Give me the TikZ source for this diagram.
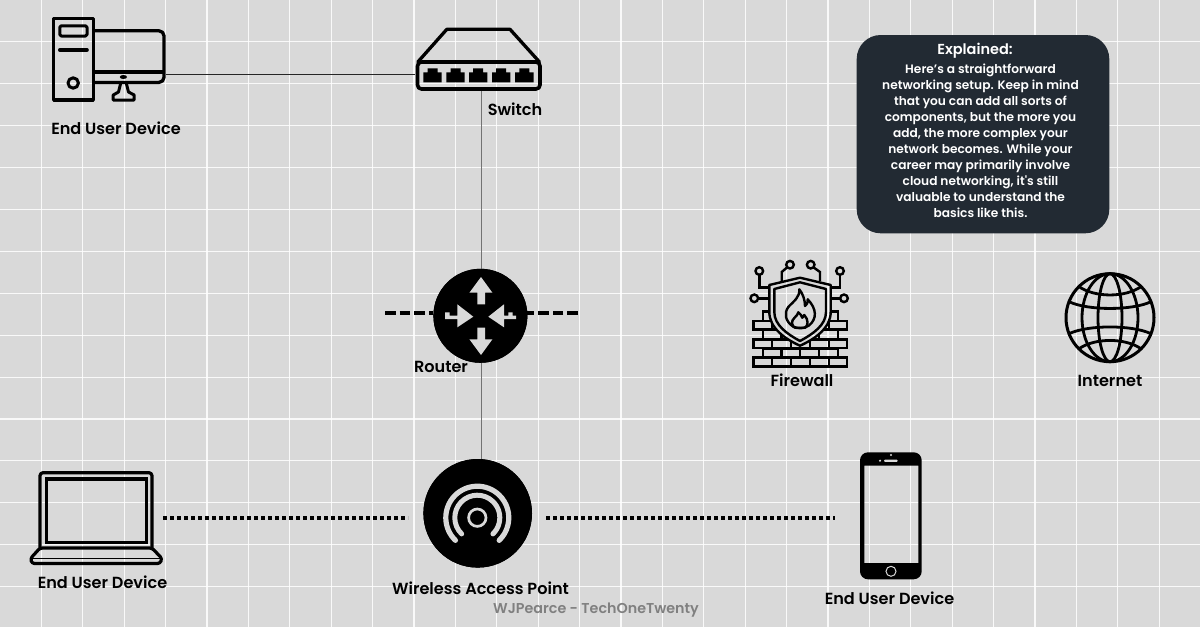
\documentclass[tikz,border=0pt]{standalone}
\usepackage{fontspec}
\setmainfont{Poppins}[BoldFont={Poppins SemiBold},Ligatures=TeXOff]
\definecolor{bgc}{HTML}{D9D9D9}
\definecolor{panel}{HTML}{222A33}
\newcommand{\gridlines}{%
  \foreach \k in {1,...,28} {\draw[gridl] ({41.4*\k},0) -- ({41.4*\k},627);}
  \foreach \k in {1,...,14} {\draw[gridl] (0,{41.9*\k}) -- (1200,{41.9*\k});}
}
\newcommand{\shieldpath}{(800,277.7) -- (769.3,285) -- (769.3,312) .. controls (769.3,328) and (785,339) .. (800,345.7) .. controls (815,339) and (830.7,328) .. (830.7,312) -- (830.7,285) -- cycle}
\tikzset{
  iconline/.style={draw=black,line width=3.3,line join=round,line cap=round},
  thinicon/.style={draw=black,line width=2.4,line join=miter},
  hotspot/.style={inner sep=0,outer sep=0,minimum width=#1},
  blackdisc/.style={circle,fill=black,inner sep=0,outer sep=0,minimum size=#1},
  lbl/.style={font=\fontsize{16.1}{18}\selectfont\bfseries,text=black,inner sep=0},
  gridl/.style={draw=white,opacity=.85,line width=1.1},
  graylink/.style={draw=black!55,line width=1},
  darklink/.style={draw=black!85,line width=1},
  dashlink/.style={draw=black,line width=4.2,dash pattern=on 10.7 off 4},
  dotlink/.style={draw=black,line width=4,dash pattern=on 4 off 3},
  brick/.style={draw=black,line width=2.5},
  arrowcut/.style={fill=bgc,draw=none}
}
\begin{document}
\begin{tikzpicture}[x=1pt,y=-1pt]
\useasboundingbox (0,0) rectangle (1200,627);
\fill[bgc] (0,0) rectangle (1200,627);
\gridlines

% anchors
\node[hotspot=114,minimum height=54] (pc) at (109,74) {};
\node[hotspot=132.6,minimum height=34] (switch) at (481.3,74) {};
\node[blackdisc=94] (routerdisc) at (480.4,315.8) {};
\node[blackdisc=108.6] (ap) at (477.7,513.3) {};
\node[hotspot=138,minimum height=10] (apzone) at (477,518) {};
\node[hotspot=134,minimum height=10] (laptop) at (96,518) {};
\node[hotspot=111.6,minimum height=10] (phone) at (890.8,518) {};
\coordinate (dashL) at (385,313.3);
\coordinate (dashR) at (578,313.3);

% connectors
\draw[darklink] (pc.east) -- (switch.west);
\draw[graylink] (switch.south) -- (switch.south |- ap.north);
\draw[dashlink] (dashL) -- (dashL -| routerdisc.west);
\draw[dashlink] (dashR) -- (dashR -| routerdisc.east);
\draw[dotlink] (laptop.east) -- (apzone.west);
\draw[dotlink] (apzone.east) -- (phone.west);
\node[blackdisc=94] at (routerdisc) {};
\node[blackdisc=108.6] at (ap) {};

% desktop
\draw[iconline] (53.7,18.7) rectangle (93.4,100);
\draw[iconline,line width=3,rounded corners=1.5] (59.8,25.8) rectangle (87,36);
\draw[iconline,line width=3.6] (59.8,50) -- (87,50);
\draw[iconline,line width=3] (73.2,83) circle (5.2);
\draw[iconline,rounded corners=5] (95,30.8) -- (164,30.8) -- (164,82.4) -- (95,82.4);
\draw[draw=black,line width=4] (95,71.7) -- (164,71.7);
\fill (123.4,77) ellipse (3.6 and 2);
\draw[iconline,line width=3] (120.5,84) -- (118.5,92) -- (113.2,95) -- (113.2,100) -- (134.2,100) -- (134.2,95) -- (128.5,92) -- (126.5,84);

% switch
\draw[iconline] (417.8,62) -- (446.8,29.3) -- (510,29.3) -- (539.5,62);
\draw[iconline,line width=3.6,rounded corners=4] (417.5,62) rectangle (540,89);
\foreach \x in {432.5,455.5,478.2,501.2,524.3} {
  \fill (\x-9.2,82.3) -- (\x-9.2,72.3) -- (\x-5,72.3) -- (\x-5,68.3) -- (\x+5,68.3) -- (\x+5,72.3) -- (\x+9.2,72.3) -- (\x+9.2,82.3) -- cycle;
}

% router arrows
\fill[arrowcut] (481,277) -- (492.4,292.7) -- (485,292.7) -- (485,304.3) -- (477.3,304.3) -- (477.3,292.7) -- (469.4,292.7) -- cycle;
\fill[arrowcut] (481,355) -- (492.4,339.3) -- (485,339.3) -- (485,327.7) -- (477.3,327.7) -- (477.3,339.3) -- (469.4,339.3) -- cycle;
\fill[arrowcut] (473.3,316.7) -- (457.3,304.3) -- (457.3,315.7) -- (449.5,315.7) -- (449.5,312.3) -- (445,312.3) -- (445,319) -- (457.3,319) -- (457.3,327.3) -- cycle;
\fill[arrowcut] (488.3,316.7) -- (504,304.3) -- (504,315.7) -- (508.3,315.7) -- (508.3,312.3) -- (512.7,312.3) -- (512.7,315.7) -- (516,315.7) -- (516,319) -- (504,319) -- (504,327.3) -- cycle;

% access point rings
\begin{scope}[shift={(477.3,517.7)}]
\draw[bgc,line width=2.7] (0,0) circle (8.7);
\draw[bgc,line width=5,line cap=round] (134:22.5) arc (134:406:22.5);
\draw[bgc,line width=5.2,line cap=round] (134:31.5) arc (134:406:31.5);
\end{scope}

% firewall
\foreach \y in {357.5,339.3,320.8} {
  \draw[brick] (753.7,\y) rectangle (847,\y+8.8);
  \foreach \x in {772.2,791,810,829} {\draw[brick] (\x,\y) -- (\x,\y+8.8);}
}
\foreach \y in {348.5,330} {
  \draw[brick] (763.2,\y) rectangle (837.8,\y+9);
  \foreach \x in {781.7,800,819} {\draw[brick] (\x,\y) -- (\x,\y+9);}
}
\draw[brick] (763.2,320.8) -- (763.2,311.7) -- (771.7,311.7) -- (771.7,320.8);
\draw[brick] (837.8,320.8) -- (837.8,311.7) -- (829,311.7) -- (829,320.8);
% circuit lines
\foreach \c in {(759.3,271),(790,264.7),(810.7,264.7),(840,271),(754.3,298.3),(844,298.3)} {\draw[thinicon] \c circle (3.8);}
\draw[thinicon] (759.3,275) -- (759.3,287.3) -- (770,287.3);
\draw[thinicon] (787,267.5) -- (781.7,272) -- (781.7,281);
\draw[thinicon] (813.7,267.5) -- (820,272) -- (820,281);
\draw[thinicon] (840,275) -- (840,287.3) -- (830,287.3);
\draw[thinicon] (758.2,298.3) -- (770,298.3);
\draw[thinicon] (840.1,298.3) -- (830,298.3);
% shield
\fill[bgc] \shieldpath;
\begin{scope}
\clip \shieldpath;
\gridlines
\end{scope}
\draw[thinicon,line join=round] \shieldpath;
\draw[thinicon,line join=round] (800,282.3) -- (774.3,289) -- (774.3,312) .. controls (774.3,325) and (787,334) .. (800,341) .. controls (813,334) and (826,325) .. (826,312) -- (826,289) -- cycle;
% flame
\draw[thinicon,line join=round] (799.3,289.3) .. controls (800,297) and (794,301) .. (788.3,307) .. controls (784,313) and (785,321) .. (793,326.5) .. controls (798,329) and (804,329) .. (809,325.5) .. controls (817,319) and (817,309) .. (807.7,299.3) .. controls (808,303) and (806.5,305) .. (805,306) .. controls (805,300) and (803,294) .. cycle;
\draw[thinicon,line join=round] (798.3,312.3) .. controls (798,316) and (791,319) .. (792,323.5) .. controls (792.5,326) and (794,327.5) .. (795,327.7) -- (805,327.7) .. controls (808,326) and (809,320) .. (804.3,315) .. controls (804,316) and (803.5,317) .. (802.3,317.7) .. controls (802,316) and (800,313.5) .. cycle;

% globe
\begin{scope}[shift={(1110,317.7)}]
\draw[iconline,line width=3] (0,0) circle (44);
\draw[iconline,line width=2.8] (0,0) ellipse (12 and 44);
\draw[iconline,line width=2.8] (0,0) ellipse (28 and 44);
\draw[iconline,line width=2.8] (-41,-16) .. controls (-22,-7) and (22,-7) .. (41,-16);
\draw[iconline,line width=2.8] (-41,16) .. controls (-22,7) and (22,7) .. (41,16);
\draw[iconline,line width=2.8] (-31,-31) .. controls (-15,-20) and (15,-20) .. (31,-31);
\draw[iconline,line width=2.8] (-31,31) .. controls (-15,20) and (15,20) .. (31,31);
\end{scope}

% laptop
\draw[iconline,line width=3.2,rounded corners=3] (40,548) -- (40,472.7) -- (152,472.7) -- (152,548);
\draw[iconline,line width=3.2,line join=miter] (46.7,479) rectangle (146.7,542.7);
\draw[iconline,line width=3.2,rounded corners=2.5] (40,548) -- (30.5,558.5) -- (32,563.5) -- (160,563.5) -- (162,558.5) -- (152,548) -- cycle;
\draw[draw=black,line width=1.6] (31,558.5) -- (161,558.5);

% phone
\fill[even odd rule,rounded corners=8] (860,452.3) rectangle (921.7,579.3) [sharp corners] (864.3,465.7) rectangle (918.3,563);
\fill[bgc,rounded corners=1] (884,459.7) rectangle (897.7,461.8);
\fill[bgc] (880,460.7) circle (1.2);
\fill[bgc] (891,455) circle (1.2);
\draw[bgc,line width=1] (891,571.3) circle (5);

% panel
\fill[panel,rounded corners=24] (856.7,35) rectangle (1109.3,233.3);
\node[font=\fontsize{14.5}{17}\selectfont\bfseries,text=white,inner sep=0] (title) at (975,51) {Explained:};
\node[font=\fontsize{12.2}{16}\selectfont\bfseries,text=white,inner sep=0,align=center,anchor=north] (body) at (980.5,63.5) {Here’s a straightforward\\networking setup. Keep in mind\\that you can add all sorts of\\components, but the more you\\add, the more complex your\\network becomes. While your\\career may primarily involve\\cloud networking, it's still\\valuable to understand the\\basics like this.};

% labels
\node[lbl] (l1) at (116,128.5) {End User Device};
\node[lbl] (l2) at (515,109.5) {Switch};
\node[lbl] (l3) at (441,367) {Router};
\node[lbl] (l4) at (802,380.5) {Firewall};
\node[lbl] (l5) at (1110,380.5) {Internet};
\node[lbl] (l6) at (102.5,582.5) {End User Device};
\node[lbl] (l7) at (480.5,588.5) {Wireless Access Point};
\node[lbl] (l8) at (889.5,598.5) {End User Device};
\node[lbl,text=black!50,font=\fontsize{14.3}{17}\selectfont\bfseries] (l9) at (596,610.5) {WJPearce - TechOneTwenty};
\end{tikzpicture}
\end{document}
